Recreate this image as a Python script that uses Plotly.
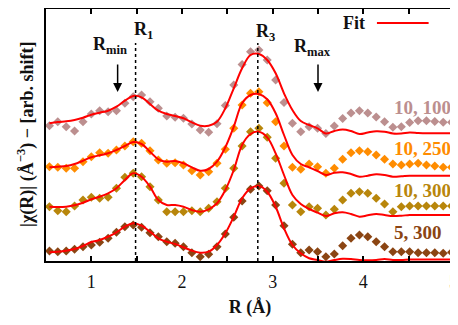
import plotly.graph_objects as go

# R grid (Å)
R = [0.538, 0.630, 0.723, 0.815, 0.908, 1.000, 1.092, 1.185, 1.277, 1.370,
     1.462, 1.554, 1.647, 1.739, 1.832, 1.924, 2.016, 2.109, 2.201, 2.294,
     2.386, 2.478, 2.571, 2.663, 2.756, 2.848, 2.940, 3.033, 3.125, 3.218,
     3.310, 3.402, 3.495, 3.587, 3.680, 3.772, 3.864, 3.957, 4.049, 4.142,
     4.234, 4.326, 4.419, 4.511, 4.604, 4.696, 4.788, 4.881, 4.973]

# |chi(R)| with arbitrary vertical shift (arb. units)
d_10_100 = [135.3, 139.3, 134.3, 130, 139.3, 147, 150.3, 149.3, 150.3, 157.7,
            164.3, 166, 159.3, 152.7, 145, 143.7, 142.7, 137, 131, 128.8,
            137.3, 155.5, 176, 196.5, 209.3, 211, 201, 181, 158.5, 137.7,
            129.3, 134.3, 132.7, 127.5, 135, 142.5, 148, 150.3, 148, 144,
            139.3, 133.7, 134.3, 138.5, 140.2, 140.2, 139.5, 138.7, 138.7]
f_10_100 = [137.7, 139, 139.7, 141, 143.3, 146.3, 148.3, 150.3, 154.3, 160.3,
            165, 163.7, 157, 150.3, 147, 145, 142.7, 138.7, 135.3, 135.3,
            139.3, 152.7, 172.7, 192.7, 206, 207, 201, 187.7, 167.7, 151,
            140, 136, 132.7, 127.5, 130, 131.5, 130, 127, 128.5, 129.8,
            129.3, 127.5, 127.5, 128.5, 128, 127.7, 127.7, 127.7, 127.7]

d_10_250 = [94.3, 93.7, 92.7, 92.7, 99.3, 104.3, 108.3, 107.7, 111, 115,
            119.3, 117.7, 110.3, 101, 97.7, 98.3, 96, 90.3, 86, 89.3,
            97.7, 111.7, 132.7, 156, 167.7, 169.3, 158.3, 139.3, 115, 93.7,
            91.7, 97, 94.3, 87.7, 92.7, 101.7, 108.3, 110.3, 109.3, 106,
            101.7, 97, 96, 97, 97.7, 96, 95, 93.7, 93.7]
f_10_250 = [93.7, 94.3, 95, 97, 100.3, 103.7, 105.7, 107.7, 111, 115,
            119, 117, 109.3, 101.7, 99.3, 100, 97.7, 93.7, 90.3, 92,
            99.3, 113.7, 134.3, 157.7, 166, 167, 161.7, 147.7, 126, 106,
            97, 93.7, 90, 86, 88.3, 88.7, 87, 84.3, 85.3, 86.7,
            86, 84.3, 84.7, 85.3, 85.3, 85.3, 85.3, 85.3, 85.3]

d_10_300 = [54.3, 50.3, 49.3, 55, 61, 63.7, 62.7, 63.7, 72.7, 83.7,
            87.7, 84.3, 74.3, 61, 49.3, 49.3, 49.3, 50.3, 49.3, 52.7,
            59.3, 72.7, 92.7, 115, 129.3, 132.7, 123.7, 102.7, 77.7, 56,
            49.3, 54.3, 52.7, 46, 51.7, 61, 67.7, 69.3, 67.7, 62.7,
            57, 49.3, 54.3, 55, 55, 55, 55, 55, 55]
f_10_300 = [54.3, 54, 54.3, 55.7, 58.3, 61.7, 64.3, 67.7, 72.7, 81,
            87.7, 84.3, 74.3, 61, 56, 56, 54.3, 51, 49.3, 51.7,
            57.7, 71, 91, 116, 127, 129.3, 123.7, 107.7, 86, 66,
            57, 52, 48.3, 45, 47.7, 48.7, 47, 44.3, 45.7, 47,
            46, 45, 45.3, 46, 46, 46, 46, 46, 46]

d_5_300 = [10, 9.3, 10, 11.7, 14.3, 16, 18.7, 22.7, 28.7, 34.3,
           36, 33.7, 28.3, 24.3, 19.3, 17.7, 14.3, 8.3, 4.3, 6.7,
           14.3, 27, 43.7, 60, 71.7, 75, 70.3, 56, 35.3, 16.7,
           8.3, 11, 9.3, 4.3, 7, 15.3, 22.7, 26, 24.3, 19.3,
           14.3, 9.3, 9.3, 9.3, 8.3, 8.3, 8.3, 7.7, 8.7]
f_5_300 = [8.7, 9.3, 10.3, 12, 15, 19, 21, 24.3, 28.7, 34.3,
           37.7, 35.3, 29.3, 22.7, 19.3, 17, 13.7, 10.3, 8.3, 9.3,
           16, 27.7, 44.3, 62.7, 72.7, 75, 69.3, 54.3, 32.7, 16,
           7.7, 2.7, 1, -0.7, 1, 2.3, 2, 1, 0.7, 1,
           2, 1, 1, 1.5, 1.5, 1.5, 1.5, 1.5, 1.5]

labels = ["10, 100", "10, 250", "10, 300", "5, 300"]
colors = ["#BC8F8F", "#FF8C00", "#B8860B", "#8B4513"]
data_sets = [d_10_100, d_10_250, d_10_300, d_5_300]
fit_sets = [f_10_100, f_10_250, f_10_300, f_5_300]
label_y = [154, 113, 71, 29]

x_ticks = [0.5, 1, 1.5, 2, 2.5, 3, 3.5, 4, 4.5, 4.995]
x_ticktext = ["", "1", "", "2", "", "3", "", "4", "", "5"]

FONT = "Liberation Serif"

fig = go.Figure()
for d, col, lab in zip(data_sets, colors, labels):
    fig.add_trace(go.Scatter(x=R, y=d, mode="markers", name=lab,
                             marker=dict(symbol="diamond", size=7, color=col),
                             showlegend=False, cliponaxis=True))
for f in fit_sets:
    fig.add_trace(go.Scatter(x=R, y=f, mode="lines", name="Fit",
                             line=dict(color="#FF0000", width=2, shape="spline",
                                       smoothing=1.0),
                             showlegend=False))

annotations = []
for lab, col, ly in zip(labels, colors, label_y):
    annotations.append(dict(x=4.315, y=ly, xref="x", yref="y", text="<b>%s</b>" % lab,
                            showarrow=False, xanchor="left", yanchor="middle",
                            font=dict(family=FONT, size=19, color=col)))

# markers of R ranges and shells
annotations += [
    dict(x=1.0, y=216, xref="x", yref="y", text="<b>R<sub>min</sub></b>", showarrow=False,
         xanchor="left", yanchor="middle", font=dict(family=FONT, size=18, color="#111")),
    dict(x=1.447, y=231, xref="x", yref="y", text="<b>R<sub>1</sub></b>", showarrow=False,
         xanchor="left", yanchor="middle", font=dict(family=FONT, size=18, color="#111")),
    dict(x=2.79, y=229, xref="x", yref="y", text="<b>R<sub>3</sub></b>", showarrow=False,
         xanchor="left", yanchor="middle", font=dict(family=FONT, size=18, color="#111")),
    dict(x=3.21, y=214, xref="x", yref="y", text="<b>R<sub>max</sub></b>", showarrow=False,
         xanchor="left", yanchor="middle", font=dict(family=FONT, size=18, color="#111")),
    dict(x=1.29, y=169, ax=1.29, ay=198, xref="x", yref="y", axref="x", ayref="y",
         text="", showarrow=True, arrowhead=2, arrowsize=1.2, arrowwidth=1.5, arrowcolor="black"),
    dict(x=3.5, y=169, ax=3.5, ay=198, xref="x", yref="y", axref="x", ayref="y",
         text="", showarrow=True, arrowhead=2, arrowsize=1.2, arrowwidth=1.5, arrowcolor="black"),
    dict(x=3.755, y=238, xref="x", yref="y", text="<b>Fit</b>", showarrow=False,
         xanchor="left", yanchor="middle", font=dict(family=FONT, size=18, color="#111")),
    dict(x=0, y=0.5, xref="paper", yref="paper", xanchor="right", yanchor="middle",
         xshift=-6, textangle=-90, showarrow=False,
         text="<b>|χ(R)| (Å<sup>−3</sup>) − [arb. shift]</b>",
         font=dict(family=FONT, size=18, color="#111")),
]

shapes = [
    dict(type="line", xref="x", yref="y", x0=1.488, x1=1.488, y0=0, y1=218,
         line=dict(color="black", width=1.5, dash="dot")),
    dict(type="line", xref="x", yref="y", x0=2.836, x1=2.836, y0=0, y1=218,
         line=dict(color="black", width=1.5, dash="dot")),
    dict(type="line", xref="x", yref="y", x0=4.15, x1=4.72, y0=238, y1=238,
         line=dict(color="#FF0000", width=2)),
]

# The page body has an 8 px default margin; size the figure to fit inside the window.
fig.update_layout(
    width=450, height=317,
    margin=dict(l=38, r=4, t=1, b=64),
    paper_bgcolor="white", plot_bgcolor="white",
    annotations=annotations, shapes=shapes,
    font=dict(family=FONT, size=18, color="#111"),
    xaxis=dict(range=[0.5, 5.0], tickvals=x_ticks, ticktext=x_ticktext,
               automargin=False, ticklabeloverflow="allow", ticklabelstandoff=3,
               ticks="inside", ticklen=5, tickwidth=1.5, tickcolor="black",
               showline=True, linecolor="black", linewidth=2, mirror="ticks",
               showgrid=False, zeroline=False,
               tickfont=dict(family=FONT, size=18, color="#111"),
               title=dict(text="<b>R (Å)</b>", font=dict(family=FONT, size=18, color="#111"),
                          standoff=10)),
    yaxis=dict(range=[0, 252], showticklabels=False, ticks="", automargin=False,
               showline=True, linecolor="black", linewidth=2, mirror=True,
               showgrid=False, zeroline=False),
)

fig.write_html("out.html")
